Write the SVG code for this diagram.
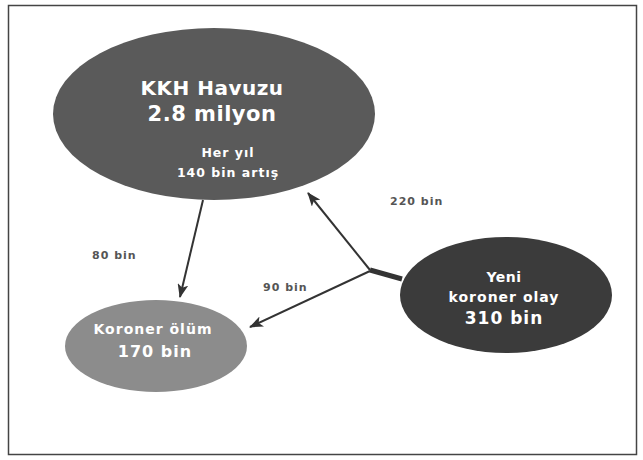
<svg xmlns="http://www.w3.org/2000/svg" width="643" height="460" viewBox="0 0 643 460">
<defs>
<marker id="ah" viewBox="0 0 14 11" refX="13" refY="5.5" markerWidth="14" markerHeight="11" markerUnits="userSpaceOnUse" orient="auto">
<path d="M0,0 L14,5.5 L0,11 L3.5,5.5 Z" fill="#333"/>
</marker>
<style>
.w{fill:#fff;font-family:"DejaVu Sans","Liberation Sans",sans-serif;font-weight:bold;text-anchor:middle}
.lbl{fill:#555;font-family:"DejaVu Sans","Liberation Sans",sans-serif;font-weight:bold;font-size:11px;letter-spacing:1px}
.c{stroke:#333;stroke-width:2;fill:none}
</style>
</defs>
<rect x="0" y="0" width="643" height="460" fill="#fff"/>
<rect x="8.5" y="5.5" width="628" height="449" fill="none" stroke="#444" stroke-width="1.5"/>
<g id="kkh">
<ellipse cx="214" cy="114" rx="161" ry="86" fill="#5a5a5a"/>
<text class="w" x="212" y="95" font-size="20" letter-spacing="0.5">KKH Havuzu</text>
<text class="w" x="212" y="121" font-size="21" letter-spacing="0.5">2.8 milyon</text>
<text class="w" x="228" y="157" font-size="12.5" letter-spacing="1">Her yıl</text>
<text class="w" x="228" y="177" font-size="12.5" letter-spacing="1">140 bin artış</text>
</g>
<g id="olum">
<ellipse cx="156" cy="346" rx="91" ry="46" fill="#8c8c8c"/>
<text class="w" x="153" y="334" font-size="14" letter-spacing="1">Koroner ölüm</text>
<text class="w" x="155" y="357" font-size="16" letter-spacing="1">170 bin</text>
</g>
<g id="yeni">
<ellipse cx="506" cy="295" rx="106" ry="58" fill="#3b3b3b"/>
<text class="w" x="504" y="282" font-size="14" letter-spacing="0.5">Yeni</text>
<text class="w" x="504" y="302" font-size="14" letter-spacing="1">koroner olay</text>
<text class="w" x="504" y="324" font-size="17" letter-spacing="1">310 bin</text>
</g>
<g id="connectors">
<line x1="370" y1="270" x2="402" y2="279" stroke="#333" stroke-width="5"/>
<line class="c" x1="370" y1="270" x2="308" y2="193" marker-end="url(#ah)"/>
<line class="c" x1="370" y1="271" x2="250" y2="327" marker-end="url(#ah)"/>
<line class="c" x1="203" y1="200" x2="180" y2="297" marker-end="url(#ah)"/>
<text class="lbl" x="92" y="259">80 bin</text>
<text class="lbl" x="263" y="291">90 bin</text>
<text class="lbl" x="390" y="205">220 bin</text>
</g>
</svg>
